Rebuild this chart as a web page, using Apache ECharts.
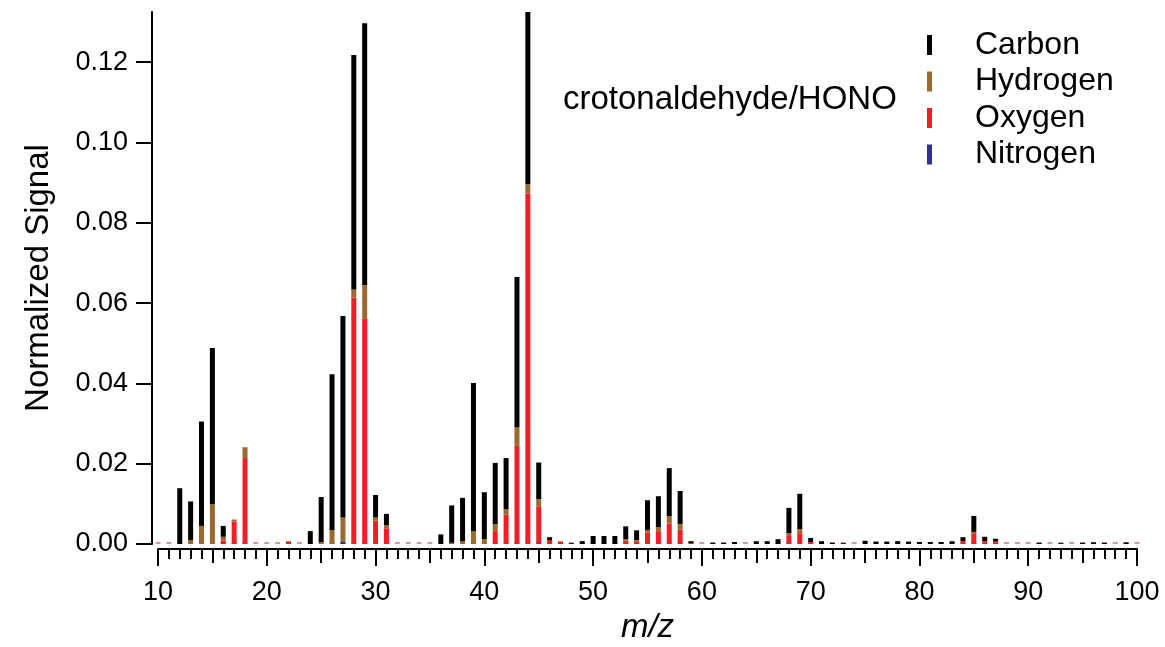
<!DOCTYPE html>
<html><head><meta charset="utf-8">
<script src="https://cdn.jsdelivr.net/npm/echarts@6/dist/echarts.min.js"></script>
<style>html,body{margin:0;padding:0;background:#fff}#c{width:1165px;height:647px}</style>
</head><body><div id="c"></div><script>
// m/z categories 10..100
const mz = Array.from({length: 91}, (_, i) => 10 + i);

const nitrogen = [
  0,0,0,0,0,0,0,0,0,0,
  0,0,0,0,0,0,0,0.0005,0,0,
  0,0,0,0,0,0,0,0,0,0,
  0,0,0,0,0,0.0002,0,0,0,0,
  0,0,0,0,0,0,0,0,0,0,
  0,0,0,0,0,0,0,0,0,0,
  0,0,0,0,0,0,0,0,0,0,
  0,0,0,0,0,0,0,0,0,0,
  0,0,0,0,0,0,0,0,0,0,
  0
];
const oxygen = [
  0,0,0,0,0,0,0.0009,0.0056,0.0214,0,
  0,0,0.0005,0,0,0,0,0,0.0614,0.0562,
  0.0058,0.0039,0,0,0,0,0,0,0,0,
  0,0.0032,0.0073,0.0244,0.0873,0.0092,0.0010,0.0006,0,0,
  0,0,0,0.0008,0.0007,0.0028,0.0032,0.0051,0.0036,0.0002,
  0,0,0,0,0,0,0,0,0.0022,0.0027,
  0.0005,0,0,0,0,0,0,0,0,0,
  0,0,0,0,0.0007,0.0025,0.0007,0.0006,0,0,
  0,0,0,0,0,0,0,0,0,0,
  0
];
const hydrogen = [
  0,0,0,0.0009,0.0045,0.0099,0.0009,0.0005,0.0027,0,
  0,0,0.0002,0,0,0.0005,0.0035,0.0061,0.0020,0.0083,
  0.0008,0.0008,0,0,0,0,0,0.0003,0.0007,0.0032,
  0.0012,0.0017,0.0014,0.0047,0.0023,0.0018,0,0.0001,0,0,
  0,0,0,0.0004,0.0003,0.0007,0.0010,0.0018,0.0014,0,
  0,0,0,0,0,0,0,0,0.0005,0.0010,
  0,0,0,0,0,0,0,0,0,0,
  0,0,0,0,0,0.0005,0,0,0,0,
  0,0,0,0,0,0,0,0,0,0,
  0
];
const carbon = [
  0,0,0.0139,0.0097,0.0260,0.0389,0.0027,0,0,0,
  0,0,0,0,0.0032,0.0112,0.0388,0.0502,0.0584,0.0652,
  0.0056,0.0028,0,0,0,0,0.0024,0.0093,0.0108,0.0369,
  0.0117,0.0153,0.0127,0.0374,0.0480,0.0091,0.0007,0,0.0002,0.0007,
  0.0020,0.0020,0.0020,0.0032,0.0024,0.0074,0.0077,0.0120,0.0082,0.0005,
  0,0.0003,0.0003,0.0005,0,0.0007,0.0007,0.0012,0.0063,0.0088,
  0.0010,0.0007,0.0003,0.0002,0,0.0008,0.0006,0.0006,0.0007,0.0006,
  0.0005,0.0005,0.0005,0.0007,0.0010,0.0040,0.0011,0.0007,0,0,
  0,0.0003,0,0.0002,0,0.0003,0.0004,0.0003,0,0.0004,
  0
];
const yTicks = [0, 0.02, 0.04, 0.06, 0.08, 0.10, 0.12];
const legendNames = ['Carbon', 'Hydrogen', 'Oxygen', 'Nitrogen'];

const FONT = '"Liberation Sans", Arial, Helvetica, sans-serif';

const chart = echarts.init(document.getElementById('c'), null, {renderer: 'canvas'});
const barCommon = {type: 'bar', barWidth: 5, barGap: '-100%', clip: true, xAxisIndex: 0, yAxisIndex: 0};
chart.setOption({
  animation: false,
  backgroundColor: '#fff',
  grid: {left: 158, right: 28, top: 12, bottom: 103, containLabel: false, outerBoundsMode: 'none'},
  legend: {
    data: legendNames, orient: 'vertical', left: 927, top: 29, padding: 0,
    itemWidth: 5, itemHeight: 20, itemGap: 4.5, icon: 'rect',
    textStyle: {fontSize: 32, fontFamily: FONT, color: '#000', padding: [0, 0, 0, 38]}
  },
  graphic: [{
    type: 'text', left: 563, top: 83,
    style: {text: 'crotonaldehyde/HONO', fontSize: 33, fontFamily: FONT, fill: '#000'}
  }],
  xAxis: [{
    type: 'category', data: mz.map(String), boundaryGap: false, show: false
  }, {
    type: 'value', min: 10, max: 100, interval: 10, position: 'bottom', offset: 5,
    axisLine: {show: true, onZero: false, lineStyle: {color: '#000', width: 2}},
    axisTick: {show: true, length: 17, lineStyle: {color: '#000', width: 2}},
    minorTick: {show: true, splitNumber: 10, length: 10, lineStyle: {color: '#000', width: 2}},
    axisLabel: {fontSize: 27, color: '#000', fontFamily: FONT, margin: 30},
    splitLine: {show: false}, minorSplitLine: {show: false},
    name: 'm/z', nameLocation: 'middle', nameGap: 62,
    nameTextStyle: {fontSize: 33, fontStyle: 'italic', fontFamily: FONT, color: '#000'}
  }, {
    type: 'value', min: 10, max: 100, interval: 5, position: 'bottom', offset: 5,
    axisLine: {show: false, onZero: false},
    axisTick: {show: true, length: 14, lineStyle: {color: '#000', width: 2}},
    axisLabel: {show: false}, splitLine: {show: false}
  }],
  yAxis: {
    type: 'value', min: 0, max: 0.1325, interval: 0.02, offset: 6,
    axisLine: {show: true, lineStyle: {color: '#000', width: 2}},
    axisTick: {show: true, length: 16, customValues: yTicks, lineStyle: {color: '#000', width: 2}},
    axisLabel: {customValues: yTicks, formatter: v => v.toFixed(2), fontSize: 27, margin: 24, color: '#000', fontFamily: FONT},
    splitLine: {show: false},
    name: 'Normalized Signal', nameLocation: 'middle', nameGap: 97, nameRotate: 90,
    nameTextStyle: {fontSize: 33, fontFamily: FONT, color: '#000'}
  },
  series: [
    Object.assign({}, barCommon, {name: 'baseline', stack: 'base', silent: true, barMinHeight: 2,
      itemStyle: {color: '#c79cb2'}, data: mz.map(() => 0)}),
    Object.assign({}, barCommon, {name: 'Nitrogen', stack: 's', itemStyle: {color: '#2e3192'}, data: nitrogen}),
    Object.assign({}, barCommon, {name: 'Oxygen', stack: 's', itemStyle: {color: '#ee1f25'}, data: oxygen}),
    Object.assign({}, barCommon, {name: 'Hydrogen', stack: 's', itemStyle: {color: '#9b6a2f'}, data: hydrogen}),
    Object.assign({}, barCommon, {name: 'Carbon', stack: 's', itemStyle: {color: '#000000'}, data: carbon})
  ]
});
</script></body></html>
